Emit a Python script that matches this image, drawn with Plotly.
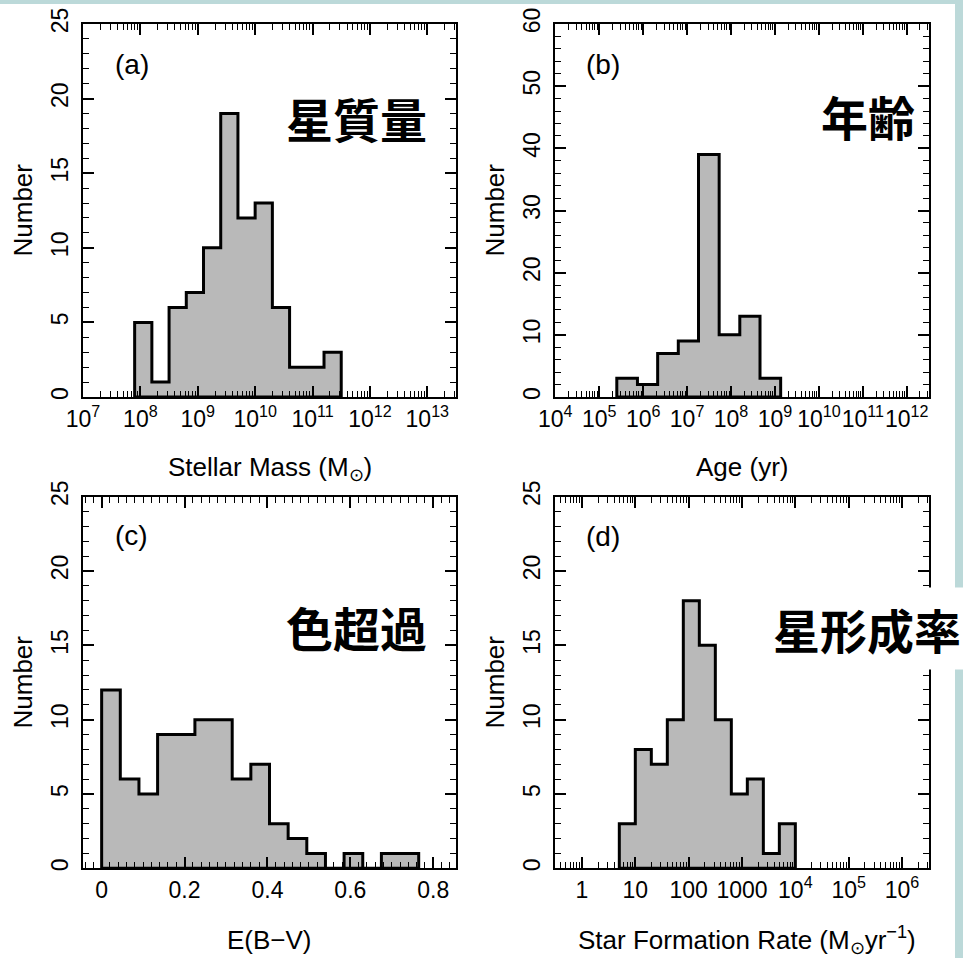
import plotly.graph_objects as go

# ---------------- data ----------------
# (a) stellar mass: log10 bin edges and counts
mass_log_edges = [7.9, 8.2, 8.5, 8.8, 9.1, 9.4, 9.7, 10.0, 10.3, 10.6, 10.9, 11.2, 11.5]
mass_counts = [5, 1, 6, 7, 10, 19, 12, 13, 6, 2, 2, 3]

# (b) age: log10 bin edges and counts
age_log_edges = [5.40, 5.87, 6.33, 6.80, 7.26, 7.73, 8.20, 8.66, 9.13]
age_counts = [3, 2, 7, 9, 39, 10, 13, 3]

# (c) E(B-V): bin edges and counts
ebv_edges = [0.0, 0.045, 0.09, 0.135, 0.18, 0.225, 0.27, 0.315, 0.36, 0.405,
             0.45, 0.495, 0.54, 0.585, 0.63, 0.675, 0.72, 0.765]
ebv_counts = [12, 6, 5, 9, 9, 10, 10, 6, 7, 3, 2, 1, 0, 1, 0, 1, 1]

# (d) SFR: log10 bin edges and counts
sfr_log_edges = [0.7, 1.0, 1.3, 1.6, 1.9, 2.2, 2.5, 2.8, 3.1, 3.4, 3.7, 4.0]
sfr_counts = [3, 8, 7, 10, 18, 15, 10, 5, 6, 1, 3]

mass_ticks = [7, 8, 9, 10, 11, 12, 13]
mass_ticktext = ["10<sup>7</sup>", "10<sup>8</sup>", "10<sup>9</sup>", "10<sup>10</sup>",
                 "10<sup>11</sup>", "10<sup>12</sup>", "10<sup>13</sup>"]
age_ticks = [4, 5, 6, 7, 8, 9, 10, 11, 12]
age_ticktext = ["10<sup>4</sup>", "10<sup>5</sup>", "10<sup>6</sup>", "10<sup>7</sup>",
                "10<sup>8</sup>", "10<sup>9</sup>", "10<sup>10</sup>", "10<sup>11</sup>",
                "10<sup>12</sup>"]
ebv_ticks = [0, 0.2, 0.4, 0.6, 0.8]
ebv_ticktext = ["0", "0.2", "0.4", "0.6", "0.8"]
sfr_ticks = [0, 1, 2, 3, 4, 5, 6]
sfr_ticktext = ["1", "10", "100", "1000", "10<sup>4</sup>", "10<sup>5</sup>", "10<sup>6</sup>"]

panel_letters = ["(a)", "(b)", "(c)", "(d)"]
panel_names = ["星質量", "年齢", "色超過", "星形成率"]
x_titles = ["Stellar Mass (M<sub>⊙</sub>)", "Age (yr)", "E(B−V)",
            "Star Formation Rate (M<sub>⊙</sub>yr<sup>−1</sup>)"]
y_title = "Number"

# ---------------- helpers ----------------
W, H = 963, 958
FONT = "Liberation Sans, Arial, sans-serif"
CJK = "Noto Sans CJK JP"
FILL = "#b9b9b9"
TEAL = "#bcd9d9"


def step_path(edges, counts):
    xs = [edges[0], edges[0]]
    ys = [0, counts[0]]
    for e, c in zip(edges[1:-1], counts[1:]):
        xs.append(e)
        ys.append(c)
    xs += [edges[-1], edges[-1], edges[0]]
    ys += [counts[-1], 0, 0]
    return xs, ys


def px(x):
    return x / W


def py(y):
    return 1 - y / H


def log_minor(lo, hi):
    return [k * 10 ** n for n in range(lo, hi + 1) for k in range(2, 10)]


def base_axis(domain, anchor):
    return dict(
        domain=domain, anchor=anchor, showline=True, linecolor="black", linewidth=2,
        mirror="allticks", ticks="inside", ticklen=11, tickwidth=1.5, tickcolor="black",
        showgrid=False, zeroline=False, tickangle=0, automargin=False,
        tickfont=dict(family=FONT, size=23, color="black"),
        minor=dict(ticks="inside", ticklen=6, tickwidth=1.2, tickcolor="black", showgrid=False),
    )


xd_left = [px(83), px(456)]
xd_right = [px(555.3), px(928.7)]
yd_top = [py(397), py(24)]
yd_bot = [py(868.3), py(496.7)]

fig = go.Figure()

panels = [
    ([10 ** e for e in mass_log_edges], mass_counts, "x", "y"),
    ([10 ** e for e in age_log_edges], age_counts, "x2", "y2"),
    (ebv_edges, ebv_counts, "x3", "y3"),
    ([10 ** e for e in sfr_log_edges], sfr_counts, "x4", "y4"),
]
for edges, counts, xa, ya in panels:
    xs, ys = step_path(edges, counts)
    fig.add_trace(go.Scatter(
        x=xs, y=ys, mode="lines", xaxis=xa, yaxis=ya,
        line=dict(shape="hv", color="black", width=3),
        fill="toself", fillcolor=FILL, showlegend=False, hoverinfo="skip"))

# x axes
xa1 = base_axis(xd_left, "y")
xa1.update(type="log", range=[7, 13.5], tickmode="array",
           tickvals=[10 ** t for t in mass_ticks], ticktext=mass_ticktext)
xa1["minor"].update(tickmode="array", tickvals=log_minor(7, 13))

xa2 = base_axis(xd_right, "y2")
xa2.update(type="log", range=[4, 12.5], tickmode="array",
           tickvals=[10 ** t for t in age_ticks], ticktext=age_ticktext)
xa2["minor"].update(tickmode="array", tickvals=log_minor(4, 12))

xa3 = base_axis(xd_left, "y3")
xa3.update(range=[-0.045, 0.855], tickmode="array", tickvals=ebv_ticks, ticktext=ebv_ticktext)
xa3["minor"].update(dtick=0.02, tick0=0)

xa4 = base_axis(xd_right, "y4")
xa4.update(type="log", range=[-0.5, 6.5], tickmode="array",
           tickvals=[10 ** t for t in sfr_ticks], ticktext=sfr_ticktext)
xa4["minor"].update(tickmode="array", tickvals=log_minor(-1, 6))

# y axes
def y_axis(domain, anchor, top, major, minor):
    a = base_axis(domain, anchor)
    a.update(range=[0, top], dtick=major, tick0=0, tickangle=-90, ticklabelstandoff=4)
    a["minor"].update(dtick=minor, tick0=0)
    return a

ya1 = y_axis(yd_top, "x", 25, 5, 1)
ya2 = y_axis(yd_top, "x2", 60, 10, 2)
ya3 = y_axis(yd_bot, "x3", 25, 5, 1)
ya4 = y_axis(yd_bot, "x4", 25, 5, 1)

annotations = []
letter_pos = [(131.5, 64), (603, 64), (131.5, 535), (603, 536)]
for t, (ax_, ay_) in zip(panel_letters, letter_pos):
    annotations.append(dict(x=px(ax_), y=py(ay_), xref="paper", yref="paper", text=t,
                            showarrow=False, xanchor="center", yanchor="middle",
                            font=dict(family=FONT, size=28, color="black")))

name_pos = [(356, 117), (867.5, 115.5), (356, 626), (867, 628)]
for i, (t, (ax_, ay_)) in enumerate(zip(panel_names, name_pos)):
    ann = dict(x=px(ax_), y=py(ay_), xref="paper", yref="paper", text="<b>" + t + "</b>",
               showarrow=False, xanchor="center", yanchor="middle",
               font=dict(family=CJK, size=47, color="black"))
    if i == 3:
        ann.update(bgcolor="white", borderpad=6)
    annotations.append(ann)

xt_pos = [(269.5, 468), (742, 467), (269.5, 940), (746.5, 940)]
for t, (ax_, ay_) in zip(x_titles, xt_pos):
    annotations.append(dict(x=px(ax_), y=py(ay_), xref="paper", yref="paper", text=t,
                            showarrow=False, xanchor="center", yanchor="middle",
                            font=dict(family=FONT, size=26, color="black")))

yt_pos = [(22, 210.5), (494, 210.5), (22, 682.5), (494, 682.5)]
for (ax_, ay_) in yt_pos:
    annotations.append(dict(x=px(ax_), y=py(ay_), xref="paper", yref="paper", text=y_title,
                            showarrow=False, xanchor="center", yanchor="middle", textangle=-90,
                            font=dict(family=FONT, size=26, color="black")))

fig.update_layout(
    template="none",
    width=W, height=H, margin=dict(l=0, r=0, t=0, b=0, pad=0, autoexpand=False),
    paper_bgcolor=TEAL, plot_bgcolor="white",
    xaxis=xa1, xaxis2=xa2, xaxis3=xa3, xaxis4=xa4,
    yaxis=ya1, yaxis2=ya2, yaxis3=ya3, yaxis4=ya4,
    annotations=annotations,
    shapes=[dict(type="rect", xref="paper", yref="paper", x0=0, x1=px(955), y0=0, y1=py(4),
                 fillcolor="white", line=dict(width=0), layer="below")],
    showlegend=False,
)

fig.write_html("out.html")
